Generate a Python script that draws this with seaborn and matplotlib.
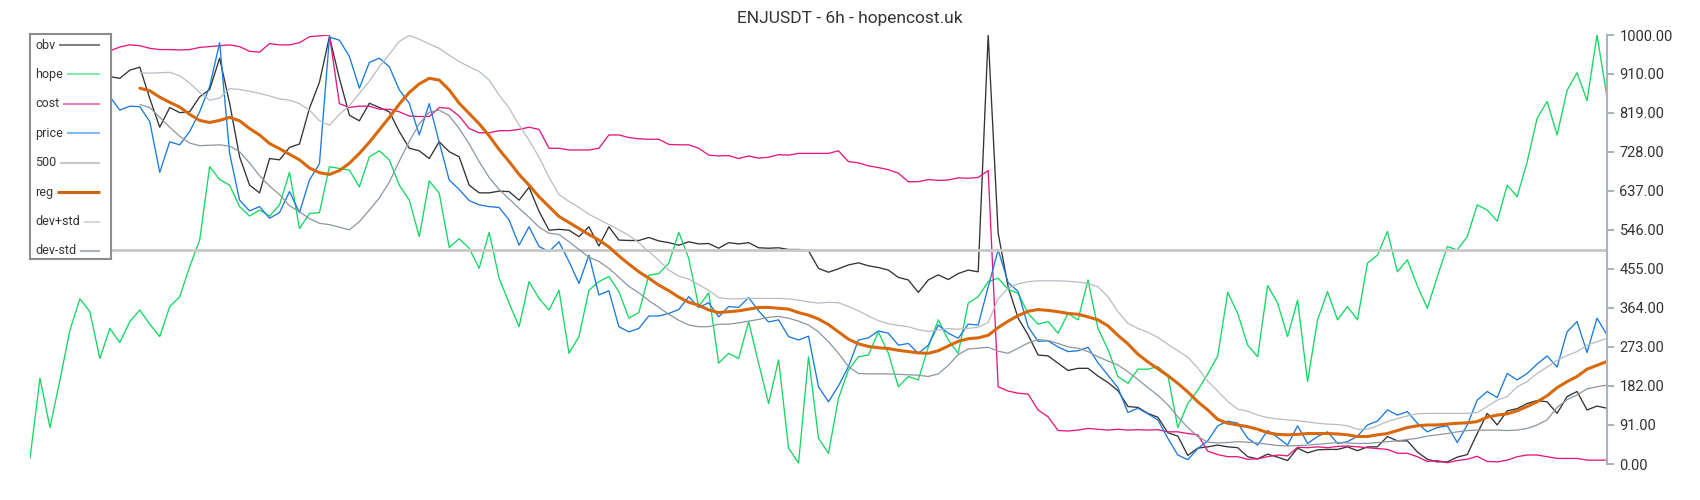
import numpy as np
import pandas as pd
import matplotlib
matplotlib.use("Agg")
import matplotlib.pyplot as plt
import seaborn as sns

nan = np.nan

title = "ENJUSDT - 6h - hopencost.uk"
labels = ["obv", "hope", "cost", "price", "500", "reg", "dev+std", "dev-std"]
level = 500
yticks = [0, 91, 182, 273, 364, 455, 546, 637, 728, 819, 910, 1000]

# values, 0..1000 scale
obv = [880, 900, 890, 910, 900, 915, 905, 910,
       903, 899, 918, 925, 852, 785, 831, 819, 821, 856, 873, 946, 841, 716, 650, 632, 712, 709,
       738, 746, 829, 890, 996, 899, 813, 800, 841, 831, 821, 775, 736, 730, 712, 751, 728, 716, 650, 632,
       632, 636, 635, 615, 645, 589, 545,
       547, 545, 530, 553, 508, 553, 522, 521, 521, 528, 520, 516, 510, 518, 513, 514, 503, 516, 513, 516,
       504, 503, 504, 500, 500, 497,
       456, 447, 455, 464, 469, 462, 458, 452, 435, 429, 400, 429, 441, 430, 444, 452, 448, 1000, 538, 413,
       340, 301, 254, 252, 235, 218,
       223, 223, 205, 190, 171, 134, 132, 118, 109, 73, 65, 20, 37, 40, 44, 40, 38, 17, 12, 23,
       16, 8, 37, 26, 33, 34, 34,
       40, 31, 40, 40, 64, 54, 54, 28, 11, 5, 5, 16, 22, 71, 118, 91, 124, 129,
       141, 148, 145, 118, 157, 169, 126, 135, 130]

hope = [13, 200, 85, 196, 312, 385, 355, 246, 316, 283, 332, 359, 326, 297, 367, 390, 460, 522, 693, 663,
        650, 600, 578, 592, 578, 604,
        680, 549, 584, 586, 693, 689, 685, 646, 716, 730, 709, 650, 615, 530, 660, 631, 505, 525, 503, 456,
        540, 433, 375, 320, 425, 386, 359,
        405, 258, 297, 405, 425, 437, 402, 340, 353, 440, 444, 468, 540, 479, 367, 399, 235, 258, 246, 332,
        235, 141, 243, 37, 2, 250,
        60, 25, 153, 219, 250, 254, 308, 258, 180, 204, 196, 273, 336, 289, 258, 375, 390, 425, 433, 407,
        398, 351, 326, 332, 305, 351,
        336, 429, 316, 267, 204, 188, 221, 221, 227, 207, 85, 141, 172, 210, 252, 400, 351, 277, 250, 416,
        375, 297, 382, 192, 336, 402, 336,
        367, 336, 468, 487, 542, 448, 476, 415, 363, 437, 507, 499, 530, 604, 592, 566, 650, 623,
        704, 806, 845, 767, 871, 912, 847, 1000, 855]

cost = [955, 958, 960, 962, 962, 960, 960, 962,
        963, 972, 977, 975, 969, 966, 966, 965, 966, 971, 973, 975, 977, 973, 962, 960, 980, 977,
        977, 982, 996, 998, 1000, 840, 831, 834, 834, 827, 827, 821, 811, 810, 810, 831, 829, 811, 782, 772,
        772, 777, 777, 780, 785, 780, 736,
        736, 732, 732, 732, 736, 767, 767, 761, 758, 757, 757, 745, 744, 744, 736, 720, 718, 719, 712, 718,
        713, 715, 721, 720, 724, 724,
        724, 724, 730, 705, 702, 695, 691, 686, 678, 658, 658, 663, 661, 662, 667, 666, 668, 684, 180, 170,
        165, 163, 126, 110, 78, 77,
        79, 83, 81, 79, 81, 79, 80, 79, 80, 75, 75, 71, 68, 30, 22, 17, 17, 11, 12, 17,
        21, 19, 39, 38, 40, 38, 41,
        42, 40, 38, 36, 34, 25, 25, 17, 6, 8, 3, 8, 11, 18, 6, 5, 9, 17,
        21, 21, 17, 13, 13, 13, 9, 9, 9]

price = [860, 870, 850, 865, 845, 850, 865, 860,
         856, 825, 834, 833, 798, 680, 751, 744, 775, 821, 880, 982, 724, 615, 590, 600, 573, 586,
         635, 586, 662, 700, 995, 988, 950, 876, 936, 946, 926, 872, 841, 767, 840, 750, 662, 640, 614, 604,
         600, 598, 569, 510, 553, 507, 495,
         518, 472, 421, 487, 394, 404, 320, 308, 316, 345, 345, 351, 360, 390, 365, 376, 343, 367, 365, 388,
         357, 331, 336, 297, 289, 298,
         180, 145, 182, 227, 289, 294, 310, 305, 277, 281, 258, 277, 324, 305, 293, 326, 324, 413, 499, 423,
         402, 320, 286, 287, 273, 262,
         264, 272, 236, 207, 178, 120, 130, 117, 103, 60, 21, 10, 36, 54, 89, 100, 95, 60, 44, 78,
         62, 44, 89, 48, 64, 75, 48,
         52, 65, 91, 100, 126, 114, 122, 95, 75, 85, 89, 50, 91, 149, 169, 155, 211, 196,
         211, 233, 252, 226, 308, 332, 260, 340, 301]

reg = [nan] * 11 + [
    876, 870, 855, 843, 832, 815, 801, 796, 801, 808, 800, 782, 767, 747, 735,
    722, 709, 690, 679, 675, 684, 701, 724, 750, 779, 808, 839, 866, 886, 899, 895, 872, 841, 817, 793,
    765, 733, 705, 675, 650, 623, 600,
    577, 563, 549, 535, 522, 506, 485, 466, 448, 433, 417, 404, 389, 377, 370, 359, 353, 355, 357, 361,
    365, 365, 363, 361, 353, 347,
    338, 325, 308, 291, 280, 274, 271, 269, 265, 262, 259, 258, 264, 275, 286, 292, 294, 300, 318, 333,
    346, 356, 360, 358, 355, 351,
    349, 343, 336, 322, 300, 280, 256, 238, 222, 206, 188, 168, 145, 126, 104, 95, 91, 87, 81, 73,
    69, 68, 69, 71, 71, 71, 70,
    68, 64, 64, 68, 71, 78, 85, 89, 91, 91, 93, 95, 96, 99, 109, 114, 117, 124,
    134, 145, 159, 178, 192, 204, 221, 230, 239]

dev_hi = [nan] * 11 + [
    912, 911, 912, 913, 905, 888, 866, 848, 853, 875, 873, 869, 864, 858, 851,
    848, 840, 825, 800, 790, 815, 835, 864, 892, 926, 955, 985, 999, 990, 979, 969, 953, 938, 926, 915,
    895, 860, 830, 790, 755, 715, 668,
    628, 612, 598, 582, 570, 558, 546, 533, 516, 495, 475, 452, 438, 431, 418, 405, 388, 385, 385, 386,
    386, 386, 386, 385, 382, 378,
    375, 377, 376, 367, 357, 345, 334, 327, 323, 320, 313, 309, 312, 316, 314, 316, 319, 330, 385, 410,
    420, 425, 427, 427, 427, 426,
    424, 421, 413, 390, 355, 328, 316, 307, 295, 279, 264, 249, 224, 193, 170, 146, 128, 123, 114, 108,
    105, 103, 101, 98, 95, 93, 92,
    89, 81, 81, 89, 99, 106, 112, 117, 118, 118, 118, 118, 118, 120, 134, 149, 157, 180,
    192, 211, 226, 242, 253, 262, 277, 285, 293]

dev_lo = [nan] * 11 + [
    838, 831, 808, 785, 764, 748, 742, 743, 744, 741, 728, 702, 672, 648, 628,
    602, 588, 572, 561, 558, 552, 546, 565, 592, 620, 657, 706, 752, 793, 820, 825, 812, 782, 746, 705,
    668, 640, 618, 596, 575, 552, 538,
    535, 518, 500, 482, 472, 456, 435, 414, 399, 381, 365, 349, 335, 324, 320, 320, 326, 326, 329, 333,
    337, 342, 344, 340, 333, 324,
    308, 285, 258, 227, 211, 210, 210, 210, 209, 208, 207, 204, 210, 230, 255, 268, 270, 272, 263, 258,
    270, 282, 290, 288, 281, 273,
    270, 262, 250, 240, 231, 215, 197, 178, 160, 138, 110, 85, 64, 51, 49, 50, 52, 51, 49, 46,
    43, 42, 43, 44, 46, 48, 50,
    49, 48, 48, 50, 52, 54, 57, 60, 65, 68, 71, 75, 78, 79, 79, 79, 78, 79,
    83, 91, 103, 132, 150, 161, 175, 180, 184]

df = pd.DataFrame({"obv": obv, "hope": hope, "cost": cost, "price": price,
                   "reg": reg, "dev+std": dev_hi, "dev-std": dev_lo})
df["t"] = np.arange(len(df))

line_col = {"obv": "#333333", "hope": "#12d862", "cost": "#e4177f", "price": "#1a7ade",
            "500": "#c8c8c8", "reg": "#d8680b", "dev+std": "#b5bdc4", "dev-std": "#8c969e"}
key_col = {"obv": "#808080", "hope": "#84e9ad", "cost": "#ea80b8", "price": "#82b9ee",
           "500": "#c8c8c8", "reg": "#cc6510", "dev+std": "#d4d8dc", "dev-std": "#a9b1b8"}

sns.set_style("white")
plt.rcParams["font.family"] = ["Roboto", "DejaVu Sans"]

fig = plt.figure(figsize=(17, 5), dpi=100)
ax = fig.add_axes([30 / 1700, 36 / 500, 1577 / 1700, 429 / 500])

for name in ["obv", "hope", "cost", "price"]:
    sns.lineplot(data=df, x="t", y=name, ax=ax, color=line_col[name], lw=0.95, errorbar=None)
ax.axhline(level, color=line_col["500"], lw=2)
sns.lineplot(data=df, x="t", y="reg", ax=ax, color=line_col["reg"], lw=2.2, errorbar=None)
sns.lineplot(data=df, x="t", y="dev+std", ax=ax, color=line_col["dev+std"], lw=0.9, errorbar=None)
sns.lineplot(data=df, x="t", y="dev-std", ax=ax, color=line_col["dev-std"], lw=0.9, errorbar=None)

ax.set_xlim(0, len(df) - 1)
ax.set_ylim(0, 1000)
ax.set_xlabel("")
ax.set_ylabel("")
ax.set_xticks([])
sns.despine(ax=ax, left=True, bottom=True, right=False, top=True)
ax.spines["right"].set_color("#aab4bc")
ax.spines["right"].set_linewidth(1.5)
ax.yaxis.tick_right()
ax.set_yticks(yticks)
ax.set_yticklabels([f"{v:.2f}" for v in yticks])
ax.tick_params(axis="y", length=5, width=1.5, color="#aab4bc", labelcolor="#333333",
               labelsize=10.5, pad=4)

fig.text(0.5, 1 - 18 / 500, title, ha="center", va="center", fontsize=12.5, color="#333333")

# legend box drawn by hand: label first, key line after it
leg = fig.add_axes([30 / 1700, 1 - 259 / 500, 81 / 1700, 225 / 500], zorder=10)
leg.set_facecolor("white")
leg.set_xlim(30, 111)
leg.set_ylim(259, 34)
leg.set_xticks([])
leg.set_yticks([])
for sp in leg.spines.values():
    sp.set_color("#8c8c8c")
    sp.set_linewidth(1.5)

rows = np.linspace(45, 251, len(labels))
texts = [leg.text(35, y, lab, ha="left", va="center", fontsize=9, color="#333333")
         for lab, y in zip(labels, rows)]
fig.canvas.draw()
renderer = fig.canvas.get_renderer()
for lab, y, t in zip(labels, rows, texts):
    bb = t.get_window_extent(renderer)
    x0 = leg.transData.inverted().transform((bb.x1, bb.y0))[0] + 4
    leg.plot([x0, 100], [y, y], color=key_col[lab], lw=2.2 if lab == "reg" else 1.5,
             solid_capstyle="butt")

fig.savefig("out.png", dpi=100)
